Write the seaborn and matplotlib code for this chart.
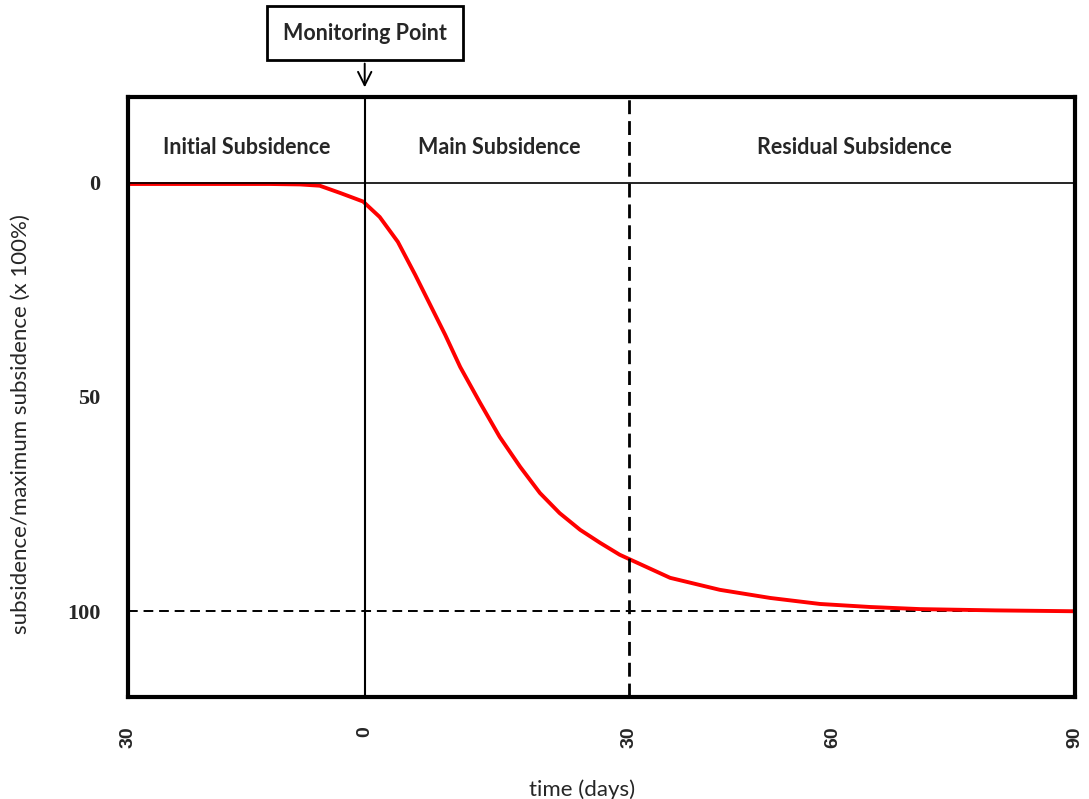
import numpy as np
import pandas as pd
import matplotlib
matplotlib.use("Agg")
import matplotlib.pyplot as plt
import seaborn as sns

# curve (days, subsidence / max subsidence in %)
days = [-30, -20, -12, -8.2, -5.7, -3.1, -1.5, -0.2, 1.9, 4.2, 6.4, 8.3, 10.2, 12.1,
        14.6, 17.1, 19.7, 22.2, 24.7, 27.3, 29.8, 32.3, 38.7, 45.0, 51.4, 57.7,
        64.0, 70.4, 80, 90]
subsidence = [0.3, 0.3, 0.3, 0.4, 0.7, 2.4, 3.5, 4.4, 8.0, 13.8, 21.5, 28.5, 35.5, 43.0,
              51.3, 59.3, 66.3, 72.4, 77.1, 81.0, 84.0, 86.8, 92.2, 95.0, 96.9, 98.3,
              99.0, 99.5, 99.8, 100.0]

# tick positions as placed in the picture (its day scale is not quite uniform)
x_ticks = [-30, 0, 33.5, 59.3, 90]
x_tick_labels = ["30", "0", "30", "60", "90"]
y_ticks = [0, 50, 100]
y_tick_labels = ["0", "50", "100"]

phases = ["Initial Subsidence", "Main Subsidence", "Residual Subsidence"]
phase_centers = [-15, 17, 62]
main_end = 33.5

df = pd.DataFrame({"days": days, "subsidence": subsidence})

sns.set_style("white")
plt.rcParams['font.family'] = ['Lato', 'DejaVu Sans']

fig = plt.figure(figsize=(10.89, 7.99), dpi=100)
ax = fig.add_axes([0.1175, 0.1277, 0.8696, 0.7509])

sns.lineplot(data=df, x="days", y="subsidence", color="red", linewidth=2.8, ax=ax)

ax.set_xlim(-30, 90)
ax.set_ylim(120, -20)

# header band and phase dividers
ax.axhline(0, color="black", linewidth=1.2)
ax.axvline(0, color="black", linewidth=1.5)
ax.axvline(main_end, color="black", linewidth=2.0, linestyle=(0, (5, 2.5)))
ax.plot([-30, 90], [100, 100], color="black", linewidth=1.4, linestyle=(0, (5, 3)), zorder=1)

for name, cx in zip(phases, phase_centers):
    ax.text(cx, -8.3, name, ha="center", va="center", fontsize=15.5, fontweight="bold")

ax.annotate("Monitoring Point", xy=(0, -21.6), xytext=(0, -34.9),
            ha="center", va="center", fontsize=15.5, fontweight="bold",
            annotation_clip=False,
            bbox=dict(boxstyle="square,pad=0.75", fc="white", ec="black", lw=2),
            arrowprops=dict(arrowstyle="->", color="black", lw=1.4, mutation_scale=24))

ax.set_xticks(x_ticks)
ax.set_xticklabels(x_tick_labels, rotation=90, fontsize=14, fontweight="bold",
                   family=["Liberation Sans", "DejaVu Sans"])
ax.set_yticks(y_ticks)
ax.set_yticklabels(y_tick_labels, fontsize=16, fontweight="bold",
                   family=["Liberation Serif", "DejaVu Serif"])
ax.tick_params(axis="x", length=0, pad=21)
ax.tick_params(axis="y", length=0, pad=20)

ax.set_xlabel("time (days)", fontsize=16)
ax.set_ylabel("subsidence/maximum subsidence (x 100%)", fontsize=16)
ax.xaxis.set_label_coords(0.48, -0.137)
ax.yaxis.set_label_coords(-0.103, 0.455)

for s in ax.spines.values():
    s.set_visible(True)
    s.set_color("black")
    s.set_linewidth(3)

fig.savefig("out.png", dpi=100)
